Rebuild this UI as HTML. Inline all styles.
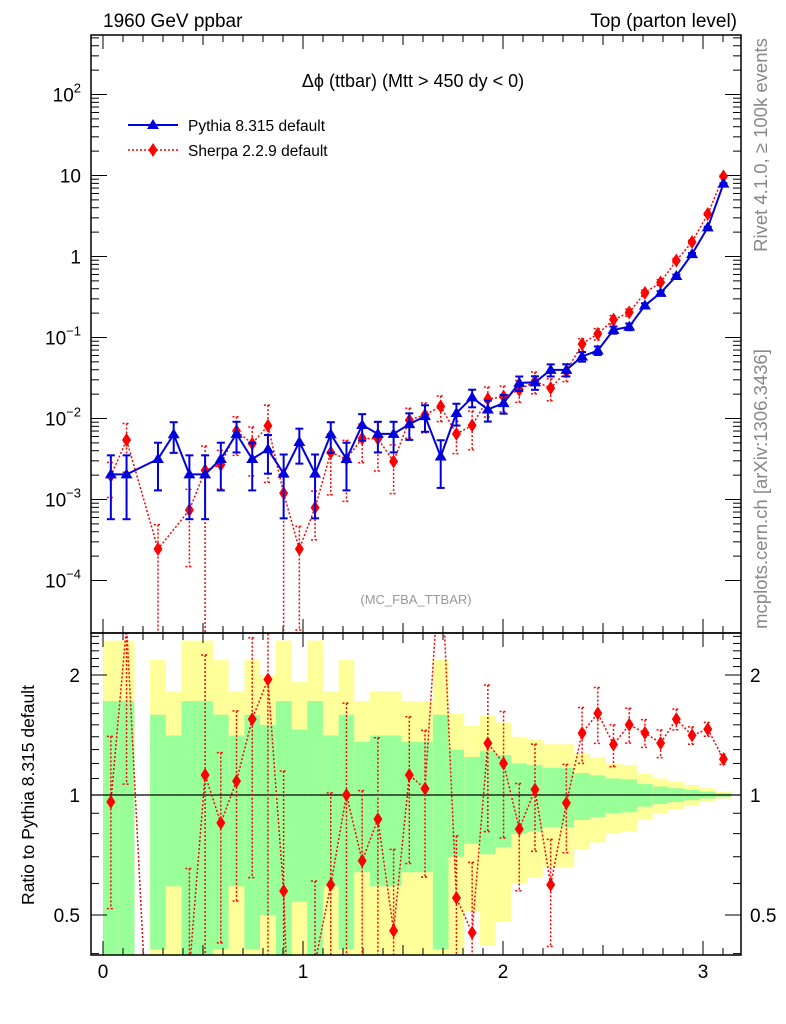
<!DOCTYPE html>
<html><head><meta charset="utf-8"><style>
html,body{margin:0;padding:0;background:#fff;width:786px;height:1024px;overflow:hidden;}
svg{display:block;font-family:"Liberation Sans",sans-serif;overflow:hidden;}
</style></head><body>
<svg id="chart" width="786" height="1024" viewBox="0 0 786 1024">
<defs>
<clipPath id="clipMain"><rect x="91" y="35" width="650" height="598"/></clipPath>
<clipPath id="clipRat"><rect x="91" y="633" width="650" height="322"/></clipPath>
</defs>
<g id="bands" clip-path="url(#clipRat)"></g>
<g id="ticks"></g>
<line x1="91" y1="795" x2="741" y2="795" stroke="#000" stroke-width="1.2"/>
<g id="mainMarks" clip-path="url(#clipMain)"></g>
<g id="ratMarks" clip-path="url(#clipRat)"></g>
<rect x="91" y="35" width="650" height="598" fill="none" stroke="#000" stroke-width="1.5"/>
<rect x="91" y="633" width="650" height="322" fill="none" stroke="#000" stroke-width="1.5"/>
<g id="labels" font-size="19" fill="#000"></g>
<text x="103" y="27" font-size="19">1960 GeV ppbar</text>
<text x="737" y="27" font-size="19" text-anchor="end">Top (parton level)</text>
<text x="413" y="87" font-size="18" text-anchor="middle">Δϕ (ttbar) (Mtt &gt; 450 dy &lt; 0)</text>
<g>
<g>
<line x1="128" y1="125" x2="178" y2="125" stroke="#0000dd" stroke-width="2"/>
<polygon points="153,119 159,129 147,129" fill="#0000dd"/>
<text x="188" y="131" font-size="15.5">Pythia 8.315 default</text></g>
<g>
<line x1="128" y1="150" x2="178" y2="150" stroke="#f00" stroke-width="1.5" stroke-dasharray="2,2"/>
<polygon points="153,143 157.5,150 153,157 148.5,150" fill="#f00"/>
<text x="188" y="156" font-size="15.5">Sherpa 2.2.9 default</text></g>
</g>
<text x="416" y="604" font-size="13" fill="#999" text-anchor="middle">(MC_FBA_TTBAR)</text>
<text transform="translate(767,145) rotate(-90)" font-size="18.5" fill="#888" text-anchor="middle">Rivet 4.1.0, ≥ 100k events</text>
<text transform="translate(767,489) rotate(-90)" font-size="18.5" fill="#888" text-anchor="middle">mcplots.cern.ch [arXiv:1306.3436]</text>
<text transform="translate(34,795) rotate(-90)" font-size="17.5" text-anchor="middle">Ratio to Pythia 8.315 default</text>
</svg>
<script>
const nBins = 40;
const pythiaValues = [0.00204,0.00204,null,0.00316,0.00638,0.00204,0.00204,0.00316,0.00646,0.00316,0.00417,0.00209,0.00513,0.00209,0.00638,0.00316,0.00832,0.00646,0.00646,0.00851,0.0107,0.00339,0.0117,0.0182,0.0129,0.0155,0.0275,0.0279,0.0398,0.0398,0.0582,0.0692,0.124,0.136,0.248,0.355,0.575,1.07,2.29,7.94];
const pythiaRelErr = [0.72,0.72,0,0.59,0.41,0.72,0.72,0.59,0.41,0.59,0.50,0.72,0.46,0.72,0.41,0.59,0.36,0.41,0.41,0.36,0.36,0.59,0.30,0.245,0.29,0.26,0.20,0.19,0.17,0.17,0.135,0.12,0.10,0.095,0.065,0.05,0.04,0.03,0.02,0.01];
const sherpaValues = [0.00196,0.00543,null,0.000245,null,0.000741,0.00229,0.00269,0.0070,0.0049,0.00813,0.0012,0.000245,0.000794,0.0038,0.00316,0.00569,0.00562,0.00295,0.00955,0.0111,0.0141,0.00646,0.00822,0.0174,0.0186,0.0226,0.0288,0.0237,0.038,0.0832,0.111,0.166,0.204,0.355,0.479,0.891,1.51,3.35,9.77];
const sherpaRelErr = [0.46,0.6,0,1.0,0,0.8,1.0,0.5,0.5,0.6,0.8,1.0,0.9,0.6,0.7,0.7,0.5,0.6,0.6,0.4,0.4,0.35,0.43,0.5,0.4,0.35,0.3,0.3,0.3,0.25,0.16,0.16,0.12,0.1,0.08,0.08,0.06,0.05,0.04,0.03];
const xTicks = [0,1,2,3];
const mainYDecades = [-4,-3,-2,-1,0,1,2];
const ratioTickLabels = [0.5,1,2];

const NS='http://www.w3.org/2000/svg';
const X = v => 103 + 200*v;
const YM = v => 418.5 - (Math.log10(v)+2)*81;
const YR = r => 795 - Math.log10(r)*398.6;
const clampR = r => Math.min(Math.max(r,0.3),3.5);
const binW = Math.PI/nBins;
function mk(tag, attrs, parent){const e=document.createElementNS(NS,tag);for(const k in attrs)e.setAttribute(k,attrs[k]);parent.appendChild(e);return e;}
const bands=document.getElementById('bands'), ticks=document.getElementById('ticks'), mainG=document.getElementById('mainMarks'), ratG=document.getElementById('ratMarks'), labels=document.getElementById('labels');

for(let k=0;k<nBins;k++){
  if(pythiaValues[k]==null) continue;
  const e=pythiaRelErr[k], x0=X(k*binW), x1=X((k+1)*binW);
  const yl=mk('rect',{x:x0,y:YR(clampR(1+2*e)),width:x1-x0,height:YR(clampR(Math.max(1-2*e,0.3)))-YR(clampR(1+2*e)),fill:'#ffff99'},bands);
  
  
  const gr=mk('rect',{x:x0,y:YR(clampR(1+e)),width:x1-x0,height:YR(clampR(Math.max(1-e,0.3)))-YR(clampR(1+e)),fill:'#99ff99'},bands);
  
  
}

for(let i=0;i<=31;i++){
  const v=i/10, x=X(v), L=(i%10===0)?14:(i%5===0?10:7);
  [[955,-1],[633,-1],[633,1],[35,1]].forEach(([y,d])=>mk('line',{x1:x,y1:y,x2:x,y2:y+d*L,stroke:'#000','stroke-width':1},ticks));
}
xTicks.forEach(v=>{const t=mk('text',{x:X(v),y:978,'text-anchor':'middle'},labels);t.textContent=v;
  
  });
mainYDecades.forEach(d=>{
  for(let m=1;m<=9;m++){const v=m*Math.pow(10,d),y=YM(v);if(y<35||y>633)continue;const L=m===1?16:8;
    mk('line',{x1:91,y1:y,x2:91+L,y2:y,stroke:'#000','stroke-width':1},ticks);
    mk('line',{x1:741,y1:y,x2:741-L,y2:y,stroke:'#000','stroke-width':1},ticks);}
  const t=mk('text',{x:81,y:YM(Math.pow(10,d))+7,'text-anchor':'end'},labels);
  
  
  if(d===0)t.textContent='1';else if(d===1)t.textContent='10';
  else{t.textContent='10';const s=mk('tspan',{dy:-9,'font-size':13},t);s.textContent=(d<0?'\u2212':'')+Math.abs(d);}
});
for(let i=4;i<=25;i++){const r=i/10,y=YR(r);if(y<633||y>955)continue;const L=(i===5||i===10||i===20)?16:8;
  mk('line',{x1:91,y1:y,x2:91+L,y2:y,stroke:'#000','stroke-width':1},ticks);
  mk('line',{x1:741,y1:y,x2:741-L,y2:y,stroke:'#000','stroke-width':1},ticks);}
ratioTickLabels.forEach(r=>{
  const t=mk('text',{x:80,y:YR(r)+7,'text-anchor':'end'},labels);t.textContent=r;
  
  
  const t2=mk('text',{x:750,y:YR(r)+7},labels);t2.textContent=r;
  
  
});

function cx(k){return X((k+0.5)*binW);}
function series(g,vals,errs,Y,blue,norm){
  const col=blue?'#0000dd':'#f00';
  const pts=[];
  for(let k=0;k<nBins;k++){if(vals[k]==null||(norm&&norm[k]==null))continue;
    const d=norm?norm[k]:1, v=vals[k]/d, e=vals[k]*errs[k]/d;
    pts.push([k,v,e]);}
  let path='';
  pts.forEach(([k,v],i)=>{path+=(i?'L':'M')+cx(k).toFixed(1)+','+Y(Math.max(v,1e-9)).toFixed(1);});
  const ln=mk('path',{d:path,fill:'none',stroke:col,'stroke-width':blue?2:1.5,'stroke-dasharray':blue?'none':'2,2'},g);
  
  
  pts.forEach(([k,v,e])=>{
    const x=cx(k), yT=Y(v+e), yB=Y(Math.max(v-e,1e-9)), y=Y(v);
    const eb=mk('g',{},g);
    
    
    const sa={stroke:col,'stroke-width':blue?2:1.5,'stroke-dasharray':blue?'none':'2,2'};
    mk('line',Object.assign({x1:x,y1:yT,x2:x,y2:yB},sa),eb);
    mk('line',Object.assign({x1:x-4,y1:yT,x2:x+4,y2:yT},sa),eb);
    mk('line',Object.assign({x1:x-4,y1:yB,x2:x+4,y2:yB},sa),eb);
    let m;
    if(blue) m=mk('polygon',{points:`${x},${y-6} ${x+6},${y+4} ${x-6},${y+4}`,fill:col},g);
    else m=mk('polygon',{points:`${x},${y-7} ${x+4.5},${y} ${x},${y+7} ${x-4.5},${y}`,fill:col},g);
    
    
  });
}
series(mainG,sherpaValues,sherpaRelErr,YM,false,null);
series(mainG,pythiaValues,pythiaRelErr,YM,true,null);
series(ratG,sherpaValues,sherpaRelErr,YR,false,pythiaValues);
</script>
</body></html>
